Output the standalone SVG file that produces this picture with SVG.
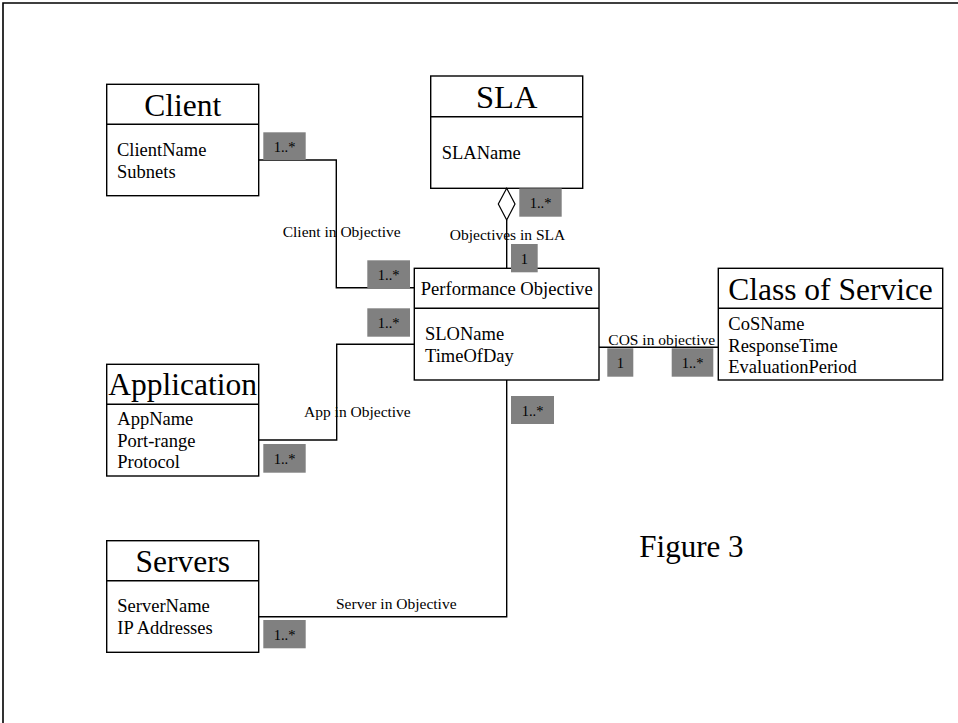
<svg xmlns="http://www.w3.org/2000/svg" width="958" height="723" viewBox="0 0 958 723">
  <style>
    .frame { fill: none; stroke: #000; stroke-width: 1.6; }
    .box { fill: #fff; stroke: #000; stroke-width: 1.4; }
    .sep { stroke: #000; stroke-width: 1.4; }
    .title { font-family: "Liberation Serif", "Times New Roman", serif; font-size: 31.5px; fill: #000; text-anchor: middle; }
    .sub { font-family: "Liberation Serif", "Times New Roman", serif; font-size: 18.6px; fill: #000; text-anchor: middle; }
    .attr { font-family: "Liberation Serif", "Times New Roman", serif; font-size: 18.5px; fill: #000; }
    .wire { fill: none; stroke: #000; stroke-width: 1.4; }
    .agg { fill: #fff; stroke: #000; stroke-width: 1.2; }
    .badge { fill: #808080; }
    .mult { font-family: "Liberation Serif", "Times New Roman", serif; font-size: 14.5px; fill: #000; text-anchor: middle; }
    .label { font-family: "Liberation Serif", "Times New Roman", serif; font-size: 15.5px; fill: #000; }
    .caption { font-family: "Liberation Serif", "Times New Roman", serif; font-size: 31px; fill: #000; }
  </style>

  <rect x="0" y="0" width="958" height="723" fill="#fff"/>
  <!-- page frame: top and left edges only -->
  <path class="frame" d="M3,723 V3 H958"/>

  <!-- classes -->
  <g id="client">
    <rect class="box" x="106.7" y="84.3" width="152" height="111.4"/>
    <line class="sep" x1="106.7" y1="124.3" x2="258.7" y2="124.3"/>
    <text class="title" x="182.7" y="115.7">Client</text>
    <text class="attr" x="117" y="156">ClientName</text>
    <text class="attr" x="117" y="177.7">Subnets</text>
  </g>

  <g id="sla">
    <rect class="box" x="430.7" y="76" width="152" height="112.3"/>
    <line class="sep" x1="430.7" y1="116.7" x2="582.7" y2="116.7"/>
    <text class="title" x="506.7" y="108.3" style="font-size:32.5px">SLA</text>
    <text class="attr" x="441.7" y="159.3">SLAName</text>
  </g>

  <g id="performance-objective">
    <rect class="box" x="414.3" y="268.3" width="184.7" height="111.7"/>
    <line class="sep" x1="414.3" y1="308.3" x2="599" y2="308.3"/>
    <text class="sub" x="506.7" y="295">Performance Objective</text>
    <text class="attr" x="425" y="340">SLOName</text>
    <text class="attr" x="425" y="362.3">TimeOfDay</text>
  </g>

  <g id="class-of-service">
    <rect class="box" x="718.3" y="268.3" width="224.4" height="111.7"/>
    <line class="sep" x1="718.3" y1="308.3" x2="942.7" y2="308.3"/>
    <text class="title" x="830.5" y="300">Class of Service</text>
    <text class="attr" x="728.3" y="330">CoSName</text>
    <text class="attr" x="728.3" y="351.7">ResponseTime</text>
    <text class="attr" x="728.3" y="373.3">EvaluationPeriod</text>
  </g>

  <g id="application">
    <rect class="box" x="106.7" y="364.3" width="152" height="111.7"/>
    <line class="sep" x1="106.7" y1="404.3" x2="258.7" y2="404.3"/>
    <text class="title" x="182.7" y="395">Application</text>
    <text class="attr" x="117.3" y="425">AppName</text>
    <text class="attr" x="117.3" y="446.7">Port-range</text>
    <text class="attr" x="117.3" y="468.3">Protocol</text>
  </g>

  <g id="servers">
    <rect class="box" x="106.7" y="540.7" width="152" height="111.6"/>
    <line class="sep" x1="106.7" y1="580.7" x2="258.7" y2="580.7"/>
    <text class="title" x="182.7" y="571.7">Servers</text>
    <text class="attr" x="117.3" y="611.7">ServerName</text>
    <text class="attr" x="117.3" y="634">IP Addresses</text>
  </g>

  <!-- associations with their multiplicities -->
  <g id="connectors">
    <path class="wire" d="M258.7,160 H336.3 V287.7 H414.3"/>
    <path class="wire" d="M506.7,220 V268.3"/>
    <path class="agg" d="M506.7,188.3 L515,204 L506.7,220 L498.3,204 Z"/>
    <path class="wire" d="M258.7,440 H336.7 V344.3 H414.3"/>
    <path class="wire" d="M599,347.3 H718.3"/>
    <path class="wire" d="M506.7,380 V616.7 H258.7"/>

    <text class="label" x="341.7" y="236.7" text-anchor="middle">Client in Objective</text>
    <text class="label" x="507.5" y="240" text-anchor="middle">Objectives in SLA</text>
    <text class="label" x="304" y="416.7">App in Objective</text>
    <text class="label" x="608.3" y="345">COS in objective</text>
    <text class="label" x="336" y="609.3">Server in Objective</text>

    <rect class="badge" x="263.3" y="132.3" width="42.4" height="27.7"/>
    <text class="mult" x="284.5" y="152.3">1..*</text>
    <rect class="badge" x="367.3" y="260.3" width="42.7" height="28"/>
    <text class="mult" x="388.7" y="280.3">1..*</text>
    <rect class="badge" x="519.3" y="188.3" width="42.4" height="28.4"/>
    <text class="mult" x="540.5" y="208.3">1..*</text>
    <rect class="badge" x="511" y="244" width="26.7" height="28.3"/>
    <text class="mult" x="524.3" y="264">1</text>
    <rect class="badge" x="367.3" y="308.3" width="42.7" height="28.4"/>
    <text class="mult" x="388.7" y="328.3">1..*</text>
    <rect class="badge" x="263.3" y="444" width="42.4" height="28.7"/>
    <text class="mult" x="284.5" y="464">1..*</text>
    <rect class="badge" x="607.3" y="348.3" width="26" height="28.4"/>
    <text class="mult" x="620.3" y="368.3">1</text>
    <rect class="badge" x="671.7" y="348.3" width="41.6" height="28.4"/>
    <text class="mult" x="692.5" y="368.3">1..*</text>
    <rect class="badge" x="511" y="396" width="43" height="28"/>
    <text class="mult" x="532.5" y="416">1..*</text>
    <rect class="badge" x="263.3" y="620" width="42.4" height="28.3"/>
    <text class="mult" x="284.5" y="640">1..*</text>
  </g>

  <text class="caption" x="639.3" y="557.3">Figure 3</text>
</svg>
